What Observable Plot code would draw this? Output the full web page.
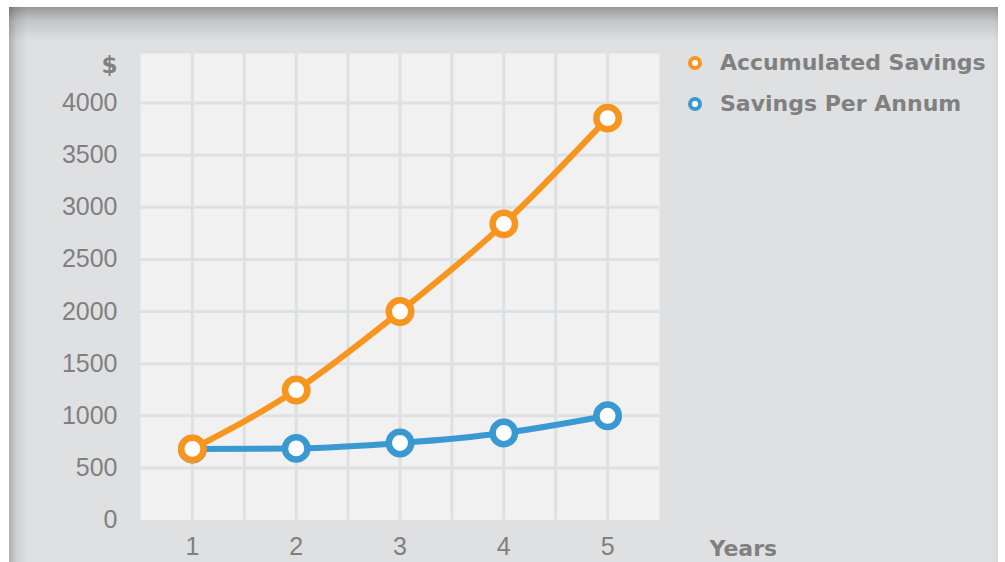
<!DOCTYPE html>
<html>
<head>
<meta charset="utf-8">
<script src="https://cdn.jsdelivr.net/npm/d3@7"></script>
<script src="https://cdn.jsdelivr.net/npm/@observablehq/plot@0.6"></script>
<style>
  html, body { margin: 0; padding: 0; background: #ffffff; }
  #wrap { position: relative; width: 1005px; height: 562px; overflow: hidden; }
  #panel { position: absolute; left: 9px; top: 7px; width: 989px; height: 560px; background: #dfe0e2; }
  #shadeTop { position: absolute; left: 9px; top: 7px; width: 989px; height: 34px;
    background: linear-gradient(to bottom, rgba(0,0,0,0.32), rgba(0,0,0,0.12) 40%, rgba(0,0,0,0)); }
  #shadeLeft { position: absolute; left: 9px; top: 7px; width: 18px; height: 560px;
    background: linear-gradient(to right, rgba(0,0,0,0.22), rgba(0,0,0,0.08) 40%, rgba(0,0,0,0)); }
  #shadeRight { position: absolute; left: 993px; top: 7px; width: 5px; height: 560px;
    background: linear-gradient(to right, rgba(0,0,0,0), rgba(0,0,0,0.04)); }
  #chart { position: absolute; left: 0; top: 0; }
  #legend { position: absolute; left: 688px; top: 48px; font-family: "DejaVu Sans", sans-serif;
    font-weight: bold; font-size: 22px; color: #808080; }
  .item { position: relative; height: 40.7px; line-height: 30px; padding-left: 32px; white-space: nowrap; }
  .ring { position: absolute; left: 0; top: 8px; width: 6px; height: 6px; border-radius: 50%;
    border: 4px solid; background: #ffffff; box-sizing: content-box; }
</style>
</head>
<body>
<div id="wrap">
  <div id="panel"></div>
  <div id="shadeTop"></div>
  <div id="shadeLeft"></div>
  <div id="shadeRight"></div>
  <div id="chart"></div>
  <div id="legend"></div>
</div>
<script>
// ---- data ----
const years = [1, 2, 3, 4, 5];
const accumulatedSavings = [682, 1247, 2000, 2841, 3855];
const savingsPerAnnum = [680, 687, 739, 835, 1000];
const seriesNames = ["Accumulated Savings", "Savings Per Annum"];
const seriesColors = ["#f7951f", "#3a99d1"];
const yTicks = [0, 500, 1000, 1500, 2000, 2500, 3000, 3500, 4000];
const xTicks = [1, 2, 3, 4, 5];
const xGrid = [1, 1.5, 2, 2.5, 3, 3.5, 4, 4.5, 5];
const yGrid = [500, 1000, 1500, 2000, 2500, 3000, 3500, 4000];
const yUnitLabel = "$";
const xUnitLabel = "Years";

// ---- tidy rows ----
const accRows = years.map((y, i) => ({year: y, value: accumulatedSavings[i], series: seriesNames[0]}));
const perRows = years.map((y, i) => ({year: y, value: savingsPerAnnum[i], series: seriesNames[1]}));

const tickFont = "Liberation Sans, Arial, sans-serif";
const boldFont = "DejaVu Sans, sans-serif";
const gridColor = "#dfe0e2";

const chart = Plot.plot({
  width: 1005,
  height: 562,
  marginLeft: 140,
  marginRight: 346,
  marginTop: 53,
  marginBottom: 42.5,
  style: {background: "transparent", color: "#808080", fontFamily: tickFont, overflow: "visible"},
  x: {domain: [0.5, 5.5]},
  y: {domain: [0, 4475]},
  marks: [
    Plot.frame({fill: "#f1f1f1", stroke: null}),
    Plot.gridX(xGrid, {stroke: gridColor, strokeOpacity: 1, strokeWidth: 3}),
    Plot.gridY(yGrid, {stroke: gridColor, strokeOpacity: 1, strokeWidth: 3}),
    Plot.axisY(yTicks, {tickSize: 0, tickPadding: 23, fontSize: 25, label: null, tickFormat: d => String(d)}),
    Plot.axisX(xTicks, {tickSize: 0, tickPadding: 17.5, fontSize: 25, label: null, tickFormat: d => String(d)}),
    Plot.text([yUnitLabel], {frameAnchor: "top-left", text: d => d, dx: -23, dy: 19, textAnchor: "end",
      lineAnchor: "bottom", fontWeight: "bold", fontSize: 23, fontFamily: boldFont, fill: "#808080"}),
    Plot.text([xUnitLabel], {frameAnchor: "bottom-right", text: d => d, dx: 50, dy: 35.5, textAnchor: "start",
      lineAnchor: "bottom", fontWeight: "bold", fontSize: 22, fontFamily: boldFont, fill: "#808080"}),
    Plot.line(perRows, {x: "year", y: "value", stroke: seriesColors[1], strokeWidth: 6, curve: "monotone-x"}),
    Plot.line(accRows, {x: "year", y: "value", stroke: seriesColors[0], strokeWidth: 6, curve: "monotone-x"}),
    Plot.dot(perRows, {x: "year", y: "value", r: 11.2, stroke: seriesColors[1], strokeWidth: 6.5, fill: "#ffffff"}),
    Plot.dot(accRows, {x: "year", y: "value", r: 11.2, stroke: seriesColors[0], strokeWidth: 6.5, fill: "#ffffff"})
  ]
});
document.getElementById("chart").appendChild(chart);

// ---- legend ----
const legend = document.getElementById("legend");
seriesNames.forEach((name, i) => {
  const item = document.createElement("div");
  item.className = "item";
  const ring = document.createElement("span");
  ring.className = "ring";
  ring.style.borderColor = seriesColors[i];
  item.appendChild(ring);
  item.appendChild(document.createTextNode(name));
  legend.appendChild(item);
});
</script>
</body>
</html>
